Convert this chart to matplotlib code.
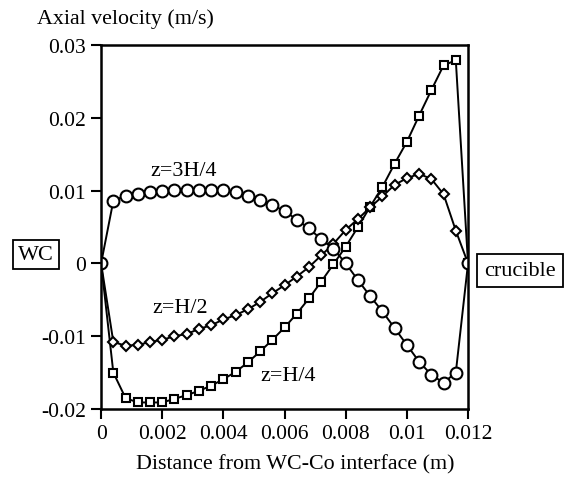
"""
Axial velocity profiles across the gap between the WC grain and the crucible.
"""

import matplotlib
matplotlib.use("Agg")
import matplotlib.pyplot as plt
import numpy as np

plt.rcParams["font.family"] = ["Liberation Serif", "DejaVu Serif"]
plt.rcParams["axes.unicode_minus"] = False

# Distance from WC-Co interface (m)
x = np.arange(0, 31) * 0.0004

# z = 3H/4 (circles)
v_3h4 = [0.0, 0.0086, 0.0093, 0.0096, 0.0098, 0.0099, 0.0101, 0.0101, 0.0101, 0.0101,
         0.0101, 0.0098, 0.0092, 0.0087, 0.0080, 0.0072, 0.0060, 0.0048, 0.0033, 0.0020,
         0.0000, -0.0023, -0.0045, -0.0066, -0.0089, -0.0112, -0.0135, -0.0153, -0.0164,
         -0.0150, 0.0]

# z = H/2 (diamonds)
v_h2 = [0.0, -0.0108, -0.0113, -0.0112, -0.0108, -0.0105, -0.0100, -0.0097, -0.0090, -0.0085,
        -0.0077, -0.0071, -0.0063, -0.0053, -0.0041, -0.0030, -0.0018, -0.0005, 0.0011, 0.0027,
        0.0046, 0.0061, 0.0077, 0.0092, 0.0108, 0.0117, 0.0123, 0.0116, 0.0095, 0.0045, 0.0]

# z = H/4 (squares)
v_h4 = [0.0, -0.0150, -0.0185, -0.0191, -0.0191, -0.0191, -0.0186, -0.0181, -0.0175, -0.0168,
        -0.0159, -0.0149, -0.0136, -0.0121, -0.0105, -0.0088, -0.0069, -0.0048, -0.0025, -0.0001,
        0.0023, 0.0050, 0.0078, 0.0105, 0.0137, 0.0167, 0.0203, 0.0238, 0.0272, 0.0279, 0.0]

xticks = [0, 0.002, 0.004, 0.006, 0.008, 0.01, 0.012]
xtick_labels = ["0", "0.002", "0.004", "0.006", "0.008", "0.01", "0.012"]
yticks = [-0.02, -0.01, 0, 0.01, 0.02, 0.03]
ytick_labels = ["-0.02", "-0.01", "0", "0.01", "0.02", "0.03"]


def main():
    fig = plt.figure(figsize=(5.68, 4.81), dpi=100)
    ax = fig.add_axes([0.178, 0.1476, 0.646, 0.7568])

    line_kw = dict(color="black", lw=1.4, markerfacecolor="white",
                   markeredgecolor="black", markeredgewidth=1.5)
    ax.plot(x, v_h4, marker="s", markersize=5.5, **line_kw)
    ax.plot(x, v_h2, marker="D", markersize=5.5, **line_kw)
    ax.plot(x, v_3h4, marker="o", markersize=8.5, **line_kw)

    ax.set_xlim(0, 0.012)
    ax.set_ylim(-0.02, 0.03)
    ax.set_xticks(xticks)
    ax.set_xticklabels(xtick_labels)
    ax.set_yticks(yticks)
    ax.set_yticklabels(ytick_labels)
    ax.tick_params(direction="out", length=7, width=1.5, labelsize=15.5,
                   top=False, right=False, pad=4)
    for s in ax.spines.values():
        s.set_linewidth(1.8)

    ax.set_xlabel("Distance from WC-Co interface (m)", fontsize=15.8)
    ax.xaxis.set_label_coords(0.53, -0.125)
    fig.text(0.065, 1 - 19 / 481, "Axial velocity (m/s)", fontsize=15.8,
             ha="left", va="center")

    ax.text(0.00271, 0.0127, "z=3H/4", fontsize=15.8, ha="center", va="center")
    ax.text(0.00257, -0.0061, "z=H/2", fontsize=15.8, ha="center", va="center")
    ax.text(0.00612, -0.0154, "z=H/4", fontsize=15.8, ha="center", va="center")

    box = dict(boxstyle="square,pad=0.22", facecolor="white", edgecolor="black", lw=1.3)
    fig.text(36 / 568, 1 - 255.5 / 481, "WC", fontsize=16, ha="center", va="center",
             bbox=box)
    box2 = dict(boxstyle="square,pad=0.32", facecolor="white", edgecolor="black", lw=1.3)
    fig.text(520 / 568, 1 - 271.5 / 481, "crucible", fontsize=16, ha="center",
             va="center", bbox=box2)

    fig.savefig("out.png", dpi=100)


if __name__ == "__main__":
    main()
